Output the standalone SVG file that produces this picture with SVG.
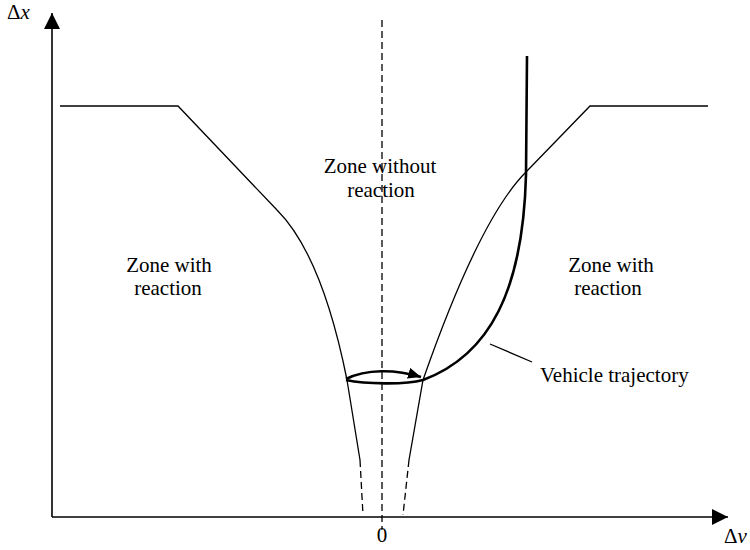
<svg xmlns="http://www.w3.org/2000/svg" width="750" height="550" viewBox="0 0 750 550">
  <style>
    .t { font-family: "Liberation Serif", "Times New Roman", serif; font-size: 21px; fill: #000; }
    .c { text-anchor: middle; }
    .ax { stroke: #000; stroke-width: 1.6; fill: none; }
    .thin { stroke: #000; stroke-width: 1.3; fill: none; }
    .dash { stroke: #000; stroke-width: 1.3; fill: none; stroke-dasharray: 7 4; }
    .traj { stroke: #000; stroke-width: 2.6; fill: none; }
  </style>
  <defs>
    <marker id="axhead" markerUnits="userSpaceOnUse" markerWidth="17" markerHeight="17" refX="16" refY="8" orient="auto">
      <path d="M0,0 L16,8 L0,16 Z" fill="#000"/>
    </marker>
    <marker id="trhead" markerUnits="userSpaceOnUse" markerWidth="14" markerHeight="12" refX="13" refY="5.5" orient="auto">
      <path d="M0,0 L13,5.5 L0,11 Z" fill="#000"/>
    </marker>
  </defs>
  <rect width="750" height="550" fill="#fff"/>

  <g id="axes">
    <path class="ax" d="M52,517 L52,13" marker-end="url(#axhead)"/>
    <path class="ax" d="M52,517 L728,517" marker-end="url(#axhead)"/>
    <line class="dash" x1="382" y1="20" x2="382" y2="530"/>
    <text class="t" x="7" y="19">Δ<tspan font-style="italic">x</tspan></text>
    <text class="t" x="724" y="543">Δ<tspan font-style="italic">v</tspan></text>
    <text class="t c" x="382" y="542">0</text>
  </g>

  <g id="boundary-left">
    <path class="thin" d="M60,106 L178,106 L277,210 Q322,255 347,380 L360,460"/>
    <path class="dash" d="M360,460 L363,515"/>
  </g>
  <g id="boundary-right">
    <path class="thin" d="M708,106 L590,106 L526,172 Q479.5,218.5 423,380 L409,460"/>
    <path class="dash" d="M409,460 L403,515"/>
  </g>

  <g id="zone-without">
    <text class="t c" x="380" y="173">Zone without</text>
    <text class="t c" x="381" y="197">reaction</text>
  </g>
  <g id="zone-left">
    <text class="t c" x="169" y="272">Zone with</text>
    <text class="t c" x="168" y="295">reaction</text>
  </g>
  <g id="zone-right">
    <text class="t c" x="611" y="272">Zone with</text>
    <text class="t c" x="608" y="295">reaction</text>
  </g>

  <g id="trajectory">
    <path class="traj" d="M527,56 L526,175 C523,290 490,355 423,380 C405,385 365,384 346,380"/>
    <path class="traj" d="M346,379 C366,369 395,369 421,377" marker-end="url(#trhead)"/>
  </g>

  <g id="connectors">
    <line class="thin" x1="490" y1="344" x2="532" y2="362"/>
  </g>
  <g id="trajectory-label">
    <text class="t" x="540" y="382">Vehicle trajectory</text>
  </g>
</svg>
